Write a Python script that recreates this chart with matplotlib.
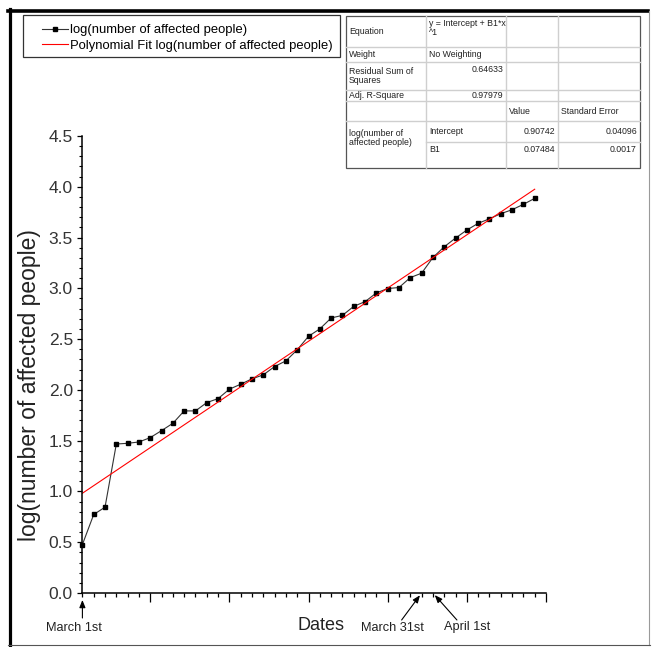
import numpy as np
import matplotlib
matplotlib.use('Agg')
import matplotlib.pyplot as plt
from matplotlib.lines import Line2D
from matplotlib.patches import Rectangle

# day index (March 1st = 1) and log10 of the number of affected people
days = np.arange(1, 42)
log_affected = [0.477, 0.773, 0.845, 1.467, 1.474, 1.487, 1.530, 1.599, 1.671, 1.793,
                1.793, 1.875, 1.914, 2.007, 2.056, 2.109, 2.148, 2.230, 2.286, 2.395,
                2.528, 2.601, 2.708, 2.734, 2.823, 2.869, 2.955, 2.998, 3.008, 3.106,
                3.149, 3.304, 3.409, 3.495, 3.574, 3.640, 3.685, 3.735, 3.774, 3.827,
                3.886]

# linear fit results as printed in the table
fit_intercept = 0.90742
fit_slope = 0.07484

date_names = ['March 1st', 'March 31st', 'April 1st']
date_days = [1, 31, 32]

stat_labels = ['Equation', 'Weight', 'Residual Sum of\nSquares', 'Adj. R-Square']
stat_values = ['y = Intercept + B1*x\n^1', 'No Weighting', '0.64633', '0.97979']
param_header = ['Value', 'Standard Error']
param_group = 'log(number of\naffected people)'
param_names = ['Intercept', 'B1']
param_values = ['0.90742', '0.07484']
param_errors = ['0.04096', '0.0017']

W, H = 652, 647
REG = ['Liberation Sans', 'DejaVu Sans']


def fx(px):
    return px / W


def fy(py):
    return 1 - py / H


fig = plt.figure(figsize=(W / 100, H / 100), dpi=100)
fig.patch.set_facecolor('white')

ax = fig.add_axes([fx(82.4), fy(593), fx(546) - fx(82.4), fy(136) - fy(593)])
ax.plot(days, log_affected, color='#333333', lw=0.8, marker='s', ms=3.5,
        mfc='black', mec='black', clip_on=False,
        label='log(number of affected people)')
fit_x = np.array([days[0], days[-1]])
ax.plot(fit_x, fit_intercept + fit_slope * fit_x, color='red', lw=0.8,
        label='Polynomial Fit log(number of affected people)')

ax.set_xlim(1, 42)
ax.set_ylim(0, 4.5)
for s in ['top', 'right']:
    ax.spines[s].set_visible(False)
for s in ['left', 'bottom']:
    ax.spines[s].set_linewidth(1.1)

ax.set_xticks(np.arange(7, 43, 7))
ax.set_xticks(np.arange(1, 43), minor=True)
ax.set_xticklabels([])
yt = np.arange(0, 4.51, 0.5)
ax.set_yticks(yt)
ax.set_yticklabels([f'{v:.1f}' for v in yt], family=REG, fontsize=12.5, color='#333333')
ax.set_yticks(np.arange(0, 4.51, 0.1), minor=True)
ax.tick_params(axis='x', which='major', direction='out', length=6.5, width=0.9)
ax.tick_params(axis='x', which='minor', direction='out', length=3.2, width=0.9)
ax.tick_params(axis='y', which='major', direction='out', length=3.8, width=0.9, pad=3)
ax.tick_params(axis='y', which='minor', direction='out', length=2.0, width=0.8)

# legend, drawn without frame, box added separately
ax.legend(loc='upper left', bbox_to_anchor=(fx(42), fy(24)), bbox_transform=fig.transFigure,
          frameon=False, borderpad=0, borderaxespad=0, handlelength=2.0,
          handletextpad=0.15, labelspacing=0.28, numpoints=1,
          prop={'family': REG, 'size': 9.4})
fig.patches.append(Rectangle((fx(22.7), fy(57)), fx(340) - fx(22.7), fy(15) - fy(57),
                             transform=fig.transFigure, fill=False, ec='#333333', lw=0.9))

# axis titles
fig.text(fx(30), fy(385), 'log(number of affected people)', rotation=90,
         ha='center', va='center', family=REG, fontsize=16.5, color='#222222')
fig.text(fx(321), fy(626), 'Dates', ha='center', va='center', family=REG,
         fontsize=13, color='#222222')

# date annotations: text centre offset and arrow tail offset (pixels)
label_pos = [(-8, -35), (-29, -35), (34, -34)]
tail_off = [(0, -25), (-20, -27), (24, -27)]
head_gap = [5, 2, 2]
for name, d, lp, to, hg in zip(date_names, date_days, label_pos, tail_off, head_gap):
    ax.annotate('', xy=(d, 0), xycoords='data', xytext=to, textcoords='offset pixels',
                annotation_clip=False,
                arrowprops=dict(arrowstyle='-|>,head_length=0.45,head_width=0.18',
                                color='black', lw=0.8, shrinkA=0, shrinkB=hg))
    ax.annotate(name, xy=(d, 0), xycoords='data', xytext=lp, textcoords='offset pixels',
                ha='center', va='center', annotation_clip=False,
                family=REG, fontsize=9.2, color='#222222')

# statistics table
cx = [346, 426, 506, 558, 640]
ry = [16, 47, 62, 90, 101, 121, 142, 168]
gc = '#cfcfcf'
for x in cx[1:-1]:
    fig.add_artist(Line2D([fx(x), fx(x)], [fy(ry[0]), fy(ry[-1])], color=gc, lw=1.0))
for i, y in enumerate(ry[1:-1], start=1):
    x0 = cx[1] if i == 6 else cx[0]
    fig.add_artist(Line2D([fx(x0), fx(cx[-1])], [fy(y), fy(y)], color=gc, lw=1.0))
fig.patches.append(Rectangle((fx(cx[0]), fy(ry[-1])), fx(cx[-1]) - fx(cx[0]),
                             fy(ry[0]) - fy(ry[-1]), transform=fig.transFigure,
                             fill=False, ec='#555555', lw=0.9))

TS = 6.3
TC = '#222222'


def cell(col, row, s, ha='left', va='center', rows=1):
    if ha == 'left':
        x = cx[col] + 3
    else:
        x = cx[col + 1] - 3
    if va == 'center':
        y = (ry[row] + ry[row + rows]) / 2
    else:
        y = ry[row] + 2.5
    fig.text(fx(x), fy(y), s, ha=ha, va=va, family=REG, fontsize=TS,
             color=TC, linespacing=1.05)


for i, lab in enumerate(stat_labels):
    cell(0, i, lab)
cell(1, 0, stat_values[0], va='top')
cell(1, 1, stat_values[1])
cell(1, 2, stat_values[2], ha='right', va='top')
cell(1, 3, stat_values[3], ha='right')
cell(2, 4, param_header[0])
cell(3, 4, param_header[1])
fig.text(fx(cx[0] + 3), fy(138), param_group, ha='left', va='center', family=REG,
         fontsize=TS, color=TC, linespacing=1.05)
for j in range(2):
    va = 'center' if j == 0 else 'top'
    cell(1, 5 + j, param_names[j], va=va)
    cell(2, 5 + j, param_values[j], ha='right', va=va)
    cell(3, 5 + j, param_errors[j], ha='right', va=va)

# outer frame of the picture
fig.add_artist(Line2D([fx(9.5), fx(9.5)], [fy(9), fy(646)], color='black', lw=2.3))
fig.add_artist(Line2D([fx(8), fx(648)], [fy(11), fy(11)], color='black', lw=2.6))
fig.add_artist(Line2D([fx(649), fx(649)], [fy(11), fy(645)], color='#9a9a9a', lw=0.8))
fig.add_artist(Line2D([fx(8), fx(650)], [fy(645), fy(645)], color='#555555', lw=0.8))

fig.savefig('out.png', dpi=100, facecolor='white')
